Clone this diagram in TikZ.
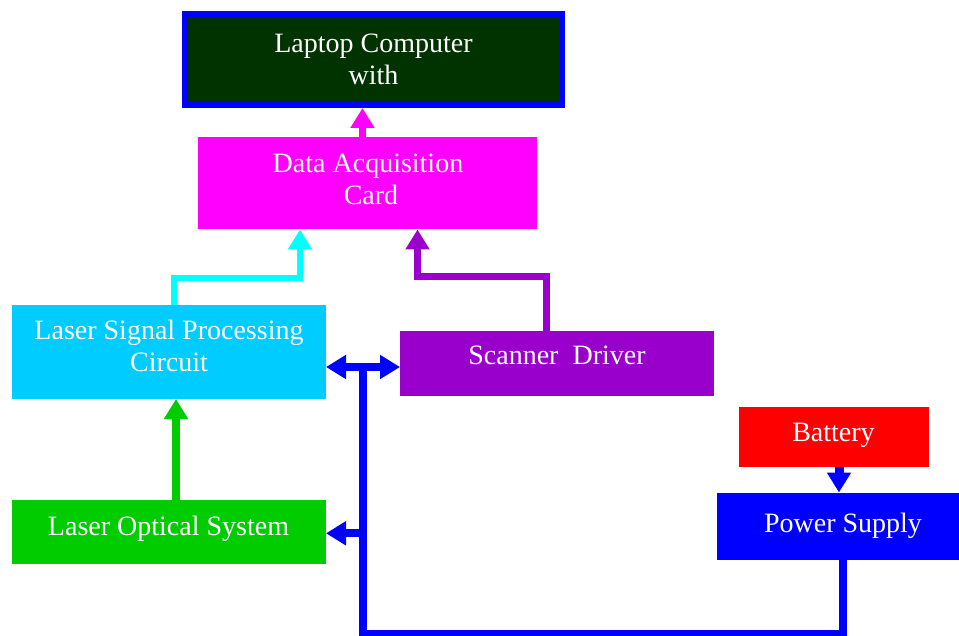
\documentclass[tikz,border=0pt]{standalone}
\usepackage{fontspec}
\setmainfont{Liberation Serif}
\usetikzlibrary{arrows.meta}
\definecolor{lapgreen}{HTML}{003300}
\definecolor{cyanbox}{HTML}{00CCFF}
\definecolor{cyanline}{HTML}{00FFFF}
\definecolor{magbox}{HTML}{FF00FF}
\definecolor{purp}{HTML}{9900CC}
\definecolor{grn}{HTML}{00CC00}
\definecolor{redbox}{HTML}{FF0000}
\definecolor{bluebox}{HTML}{0000FF}
\tikzset{
  blk/.style={rectangle, inner sep=0pt, outer sep=0pt},
  lbl/.style={anchor=base, inner sep=0pt, text=white, font=\fontsize{28}{32}\selectfont},
  tipA/.style={-{Triangle[width=23pt,length=20pt]}},
  conn/.style={line join=miter}
}
\newcommand{\twoline}[2]{\begin{tabular}[t]{@{}c@{}}#1\\#2\end{tabular}}
\begin{document}
\begin{tikzpicture}[x=1pt,y=-1pt]
\useasboundingbox (0,0) rectangle (959,636);
\clip (0,0) rectangle (959,636);
% boxes
\node[blk, fill=lapgreen, draw=bluebox, line width=6pt, outer sep=3pt,
      minimum width=377pt, minimum height=91pt] (laptop) at (373.5,59.5) {};
\node[blk, fill=magbox, minimum width=339pt, minimum height=92pt] (daq) at (367.5,183.5) {};
\node[blk, fill=cyanbox, minimum width=314pt, minimum height=94pt] (lsp) at (169,352) {};
\node[blk, fill=purp, minimum width=314pt, minimum height=65pt] (scan) at (557,364) {};
\node[blk, fill=grn, minimum width=314pt, minimum height=64pt] (los) at (169,532) {};
\node[blk, fill=redbox, minimum width=190pt, minimum height=60pt] (bat) at (834,436.5) {};
\node[blk, fill=bluebox, minimum width=252pt, minimum height=67pt] (ps) at (843,526) {};
% labels
\node[lbl] (laptopT) at (373.5,52.5) {\twoline{Laptop Computer}{with}};
\node[lbl] (daqT) at (368,173) {\twoline{Data Acquisition}{\hspace{6pt}Card}};
\node[lbl] (lspT) at (169,339.5) {\twoline{Laser Signal Processing}{Circuit}};
\node[lbl] (scanT) at (557,365) {Scanner~~Driver};
\node[lbl] (losT) at (168.5,535) {Laser Optical System};
\node[lbl] (batT) at (833.5,441.5) {Battery};
\node[lbl] (psT) at (843,532.5) {Power Supply};
% helper coordinates
\coordinate (magx) at (362.5,0);
\coordinate (cyA) at (173.5,278);
\coordinate (cyB) at (300,278);
\coordinate (puA) at (546.5,277);
\coordinate (puB) at (417.5,277);
\coordinate (grx) at (176,0);
\coordinate (batx) at (839,0);
\coordinate (bA) at (843,633.5);
\coordinate (bB) at (362.5,633.5);
\coordinate (bT) at (362.5,367);
\coordinate (bL) at (362.5,533.3);
% connectors
\draw[conn, tipA, magbox, line width=7pt] (daq.north -| magx) -- (laptop.south -| magx);
\draw[conn, tipA, cyanline, line width=6pt] (lsp.north -| cyA) -- (cyA) -- (cyB) -- (daq.south -| cyB);
\draw[conn, tipA, purp, line width=7pt] (scan.north -| puA) -- (puA) -- (puB) -- (daq.south -| puB);
\draw[conn, tipA, grn, line width=8pt] (los.north -| grx) -- (lsp.south -| grx);
\draw[conn, tipA, bluebox, line width=9pt] (bat.south -| batx) -- (ps.north -| batx);
\draw[conn, bluebox, line width=8pt] (ps.south -| bA) -- (bA) -- (bB) -- ([yshift=4pt]bT);
\draw[conn, tipA, bluebox, line width=8pt] (bT) -- (lsp.east |- bT);
\draw[conn, tipA, bluebox, line width=8pt] (bT) -- (scan.west |- bT);
\draw[conn, tipA, bluebox, line width=8pt] (bL) -- (los.east |- bL);
\end{tikzpicture}
\end{document}
